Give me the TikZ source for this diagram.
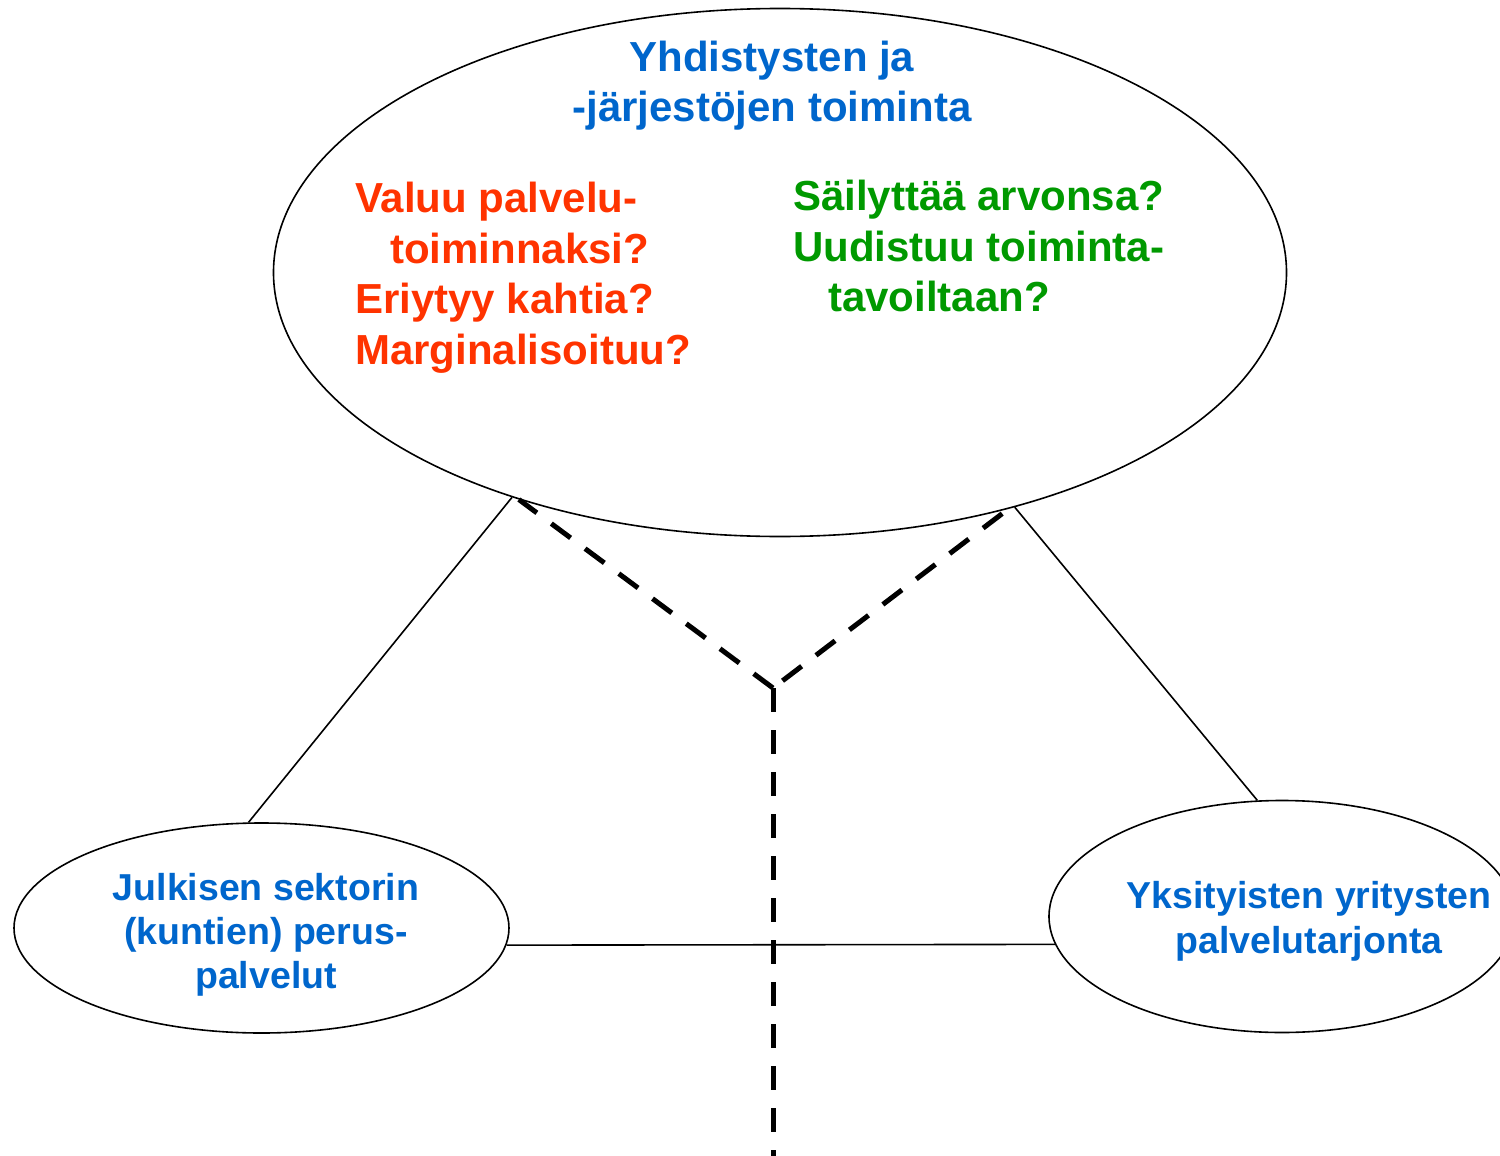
\documentclass[tikz,border=0pt]{standalone}
\usepackage{fontspec}
\setmainfont{Liberation Sans}
\usetikzlibrary{shapes.geometric}
\definecolor{tblue}{RGB}{0,102,204}
\definecolor{tred}{RGB}{255,51,0}
\definecolor{tgreen}{RGB}{0,153,0}
\begin{document}
\begin{tikzpicture}[x=1pt,y=-1pt,
  oval/.style={draw,shape=ellipse,inner sep=0pt,line width=1.6pt},
  thinline/.style={line width=1.6pt},
  dashline/.style={line width=5pt,dash pattern=on 24pt off 18pt},
  bigtxt/.style={inner sep=0pt,font=\fontsize{42}{50}\selectfont\bfseries},
  smalltxt/.style={inner sep=0pt,font=\fontsize{37.5}{45}\selectfont\bfseries,text=tblue}]
\useasboundingbox (0,0) rectangle (1500,1156);
% ellipses
\node[oval,minimum width=1013pt,minimum height=528pt] (big) at (780,272.5) {};
\node[oval,minimum width=495pt,minimum height=210pt] (left) at (261.5,928) {};
\node[oval,minimum width=466pt,minimum height=232pt] (right) at (1282,916.5) {};
% title
\node[bigtxt,text=tblue,anchor=base] (t1) at (772,71.5) {Yhdistysten ja};
\node[bigtxt,text=tblue,anchor=base] (t2) at (772,121.5) {-järjestöjen toiminta};
% red
\node[bigtxt,text=tred,anchor=base west] (r1) at (355,212) {Valuu palvelu-};
\node[bigtxt,text=tred,anchor=base west] (r2) at (390,263) {toiminnaksi?};
\node[bigtxt,text=tred,anchor=base west] (r3) at (355,313.5) {Eriytyy kahtia?};
\node[bigtxt,text=tred,anchor=base west] (r4) at (355,364) {Marginalisoituu?};
% green
\node[bigtxt,text=tgreen,anchor=base west] (g1) at (793,210.5) {Säilyttää arvonsa?};
\node[bigtxt,text=tgreen,anchor=base west] (g2) at (793,261) {Uudistuu toiminta-};
\node[bigtxt,text=tgreen,anchor=base west] (g3) at (828,311.5) {tavoiltaan?};
% left ellipse text
\node[smalltxt,anchor=base] (l1) at (266,900) {Julkisen sektorin};
\node[smalltxt,anchor=base] (l2) at (266,944) {(kuntien) perus-};
\node[smalltxt,anchor=base] (l3) at (266,988.5) {palvelut};
% right ellipse text
\node[smalltxt,anchor=base] (q1) at (1309,908.5) {Yksityisten yritysten};
\node[smalltxt,anchor=base] (q2) at (1309,953) {palvelutarjonta};
% connectors
\draw[thinline] (big.220.2) -- (left.97.9);
\draw[thinline] (big.315.3) -- (right.102.7);
\draw[thinline] (left.-4.3) -- (right.187.2);
\coordinate (v) at (773,688);
\coordinate (bottom) at (773,1160);
\draw[dashline] (v) -- (big.221.6);
\draw[dashline,dash phase=30pt] (v) -- (big.-46.2);
\draw[dashline] (v) -- (bottom);
\end{tikzpicture}
\end{document}
